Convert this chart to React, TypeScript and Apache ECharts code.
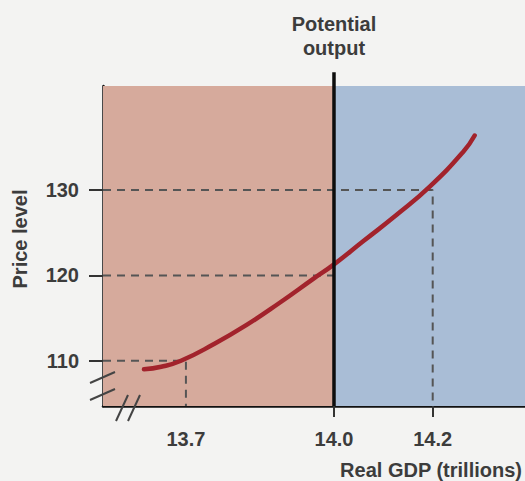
import React, { useEffect, useRef } from "react";
import * as echarts from "echarts";

const xTickLabels = [13.7, 14.0, 14.2];
const xTicks = [14.0, 14.2];
const yTickLabels = [110, 120, 130];
const xRange = [13.532, 14.387];
const yRange = [104.7, 142.2];
const potentialOutput = 14.0;
const potentialTop = 143.8;
const srasCurve: [number, number][] = [
  [13.615, 109.0],
  [13.65, 109.3],
  [13.69, 110.0],
  [13.755, 111.9],
  [13.823, 114.2],
  [13.89, 116.8],
  [13.958, 119.6],
  [14.0, 121.3],
  [14.059, 124.0],
  [14.127, 127.1],
  [14.194, 130.4],
  [14.262, 134.5],
  [14.285, 136.4],
];
const guides: [number, number][] = [
  [13.7, 110],
  [14.0, 120],
  [14.2, 130],
];

const FONT = "Liberation Sans, Arial, sans-serif";
const TEXT = "#3c3c3c";

export default function App() {
  const ref = useRef<HTMLDivElement>(null);
  useEffect(() => {
    if (!ref.current) return;
    const chart = echarts.init(ref.current, null, { renderer: "svg" });
    const dash = { color: "#555", width: 2, type: [8, 6] as any };
    const guideSeries: any[] = guides.map(([gx, gy]) => ({
      type: "line",
      data: gx === potentialOutput
        ? [[xRange[0], gy], [gx, gy]]
        : [[xRange[0], gy], [gx, gy], [gx, yRange[0]]],
      showSymbol: false,
      lineStyle: dash,
      silent: true,
      z: 3,
    }));
    chart.setOption({
      animation: false,
      backgroundColor: "#f3f3f2",
      grid: { left: 103, right: 0, top: 86, bottom: 75 },
      xAxis: {
        type: "value",
        min: xRange[0],
        max: xRange[1],
        splitLine: { show: false },
        axisLine: { lineStyle: { color: "#111", width: 2.5 } },
        axisTick: {
          show: true,
          customValues: xTicks,
          length: 11,
          lineStyle: { color: "#333", width: 2 },
        },
        axisLabel: {
          customValues: xTickLabels,
          formatter: (v: number) => v.toFixed(1),
          margin: 23,
          fontFamily: FONT,
          fontWeight: "bold",
          fontSize: 20,
          color: TEXT,
        },
      },
      yAxis: {
        type: "value",
        min: yRange[0],
        max: yRange[1],
        splitLine: { show: false },
        axisLine: { show: true, lineStyle: { color: "#111", width: 2.5 } },
        axisTick: {
          show: true,
          customValues: yTickLabels,
          length: 14,
          lineStyle: { color: "#333", width: 2 },
        },
        axisLabel: {
          customValues: yTickLabels,
          margin: 24,
          fontFamily: FONT,
          fontWeight: "bold",
          fontSize: 20,
          color: TEXT,
        },
      },
      series: [
        {
          type: "line",
          data: [],
          silent: true,
          z: 1,
          markArea: {
            silent: true,
            data: [
              [
                { coord: [xRange[0], yRange[0]], itemStyle: { color: "#d6aa9c" } },
                { coord: [potentialOutput, yRange[1]] },
              ],
              [
                { coord: [potentialOutput, yRange[0]], itemStyle: { color: "#a9bdd6" } },
                { coord: [xRange[1], yRange[1]] },
              ],
            ],
          },
        },
        ...guideSeries,
        {
          type: "line",
          data: srasCurve,
          smooth: 0.5,
          showSymbol: false,
          lineStyle: { color: "#a2232c", width: 4.5, cap: "round" },
          z: 4,
        },
        {
          type: "line",
          data: [[potentialOutput, yRange[0]], [potentialOutput, potentialTop]],
          showSymbol: false,
          clip: false,
          lineStyle: { color: "#0d0d0d", width: 3.5 },
          z: 5,
        },
      ],
      graphic: [
        { type: "text", x: 334, y: 14, style: { text: "Potential", textAlign: "center", textVerticalAlign: "top", fill: TEXT, font: `bold 20px ${FONT}` } },
        { type: "text", x: 334, y: 38, style: { text: "output", textAlign: "center", textVerticalAlign: "top", fill: TEXT, font: `bold 20px ${FONT}` } },
        { type: "text", x: 460, y: 115, style: { text: "SRAS", textAlign: "center", textVerticalAlign: "middle", fill: TEXT, font: `italic bold 20px ${FONT}` } },
        { type: "text", x: 20, y: 239, rotation: Math.PI / 2, style: { text: "Price level", textAlign: "center", textVerticalAlign: "middle", fill: TEXT, font: `bold 20px ${FONT}` } },
        { type: "text", x: 522, y: 470, style: { text: "Real GDP (trillions)", textAlign: "right", textVerticalAlign: "middle", fill: TEXT, font: `bold 20px ${FONT}` } },
        { type: "line", shape: { x1: 90, y1: 383, x2: 115, y2: 372 }, style: { stroke: "#444", lineWidth: 2 }, z: 10 },
        { type: "line", shape: { x1: 90, y1: 400, x2: 115, y2: 389 }, style: { stroke: "#444", lineWidth: 2 }, z: 10 },
        { type: "line", shape: { x1: 116, y1: 421, x2: 128, y2: 395 }, style: { stroke: "#444", lineWidth: 2 }, z: 10 },
        { type: "line", shape: { x1: 128, y1: 421, x2: 140, y2: 395 }, style: { stroke: "#444", lineWidth: 2 }, z: 10 },
      ],
    });
    return () => chart.dispose();
  }, []);
  return (
    <div
      ref={ref}
      style={{ position: "fixed", left: 0, top: 0, width: 525, height: 481 }}
    />
  );
}
